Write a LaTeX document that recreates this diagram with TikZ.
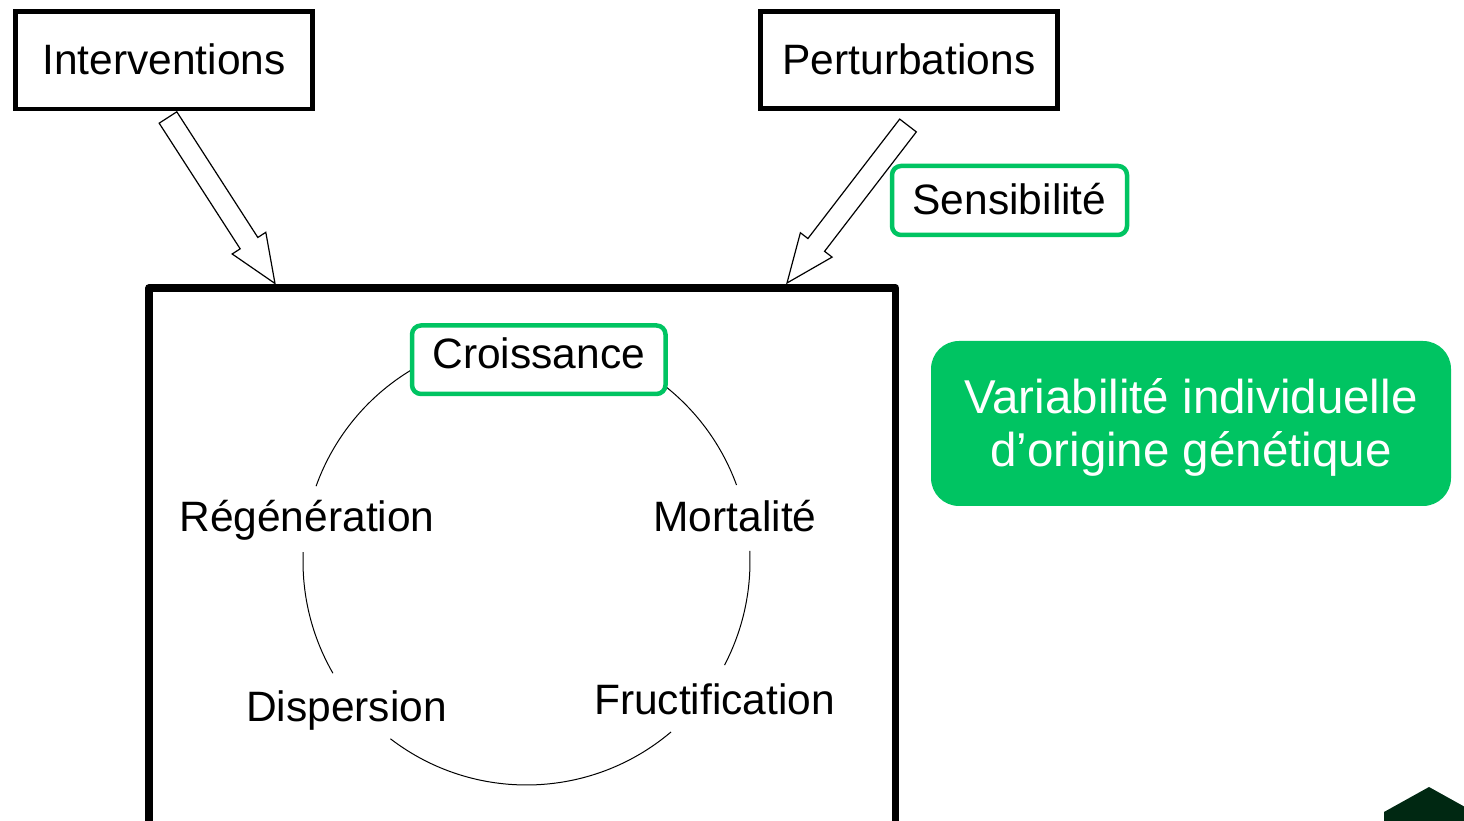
\documentclass[tikz,border=0pt]{standalone}
\usepackage{fontspec}
\setmainfont{Liberation Sans}
\usetikzlibrary{calc}
\definecolor{leafgreen}{RGB}{0,196,98}
\definecolor{forestdark}{RGB}{0,40,18}

% hollow block arrow from #1 (tail centre) to #2 (tip)
\newcommand\blockarrow[2]{%
  \draw[hollow] ($(#1)!10.5pt!90:(#2)$)
    -- ($(#2)!48pt!(#1)!10.5pt!90:(#2)$)
    -- ($(#2)!48pt!(#1)!20pt!90:(#2)$)
    -- (#2)
    -- ($(#2)!48pt!(#1)!20pt!-90:(#2)$)
    -- ($(#2)!48pt!(#1)!10.5pt!-90:(#2)$)
    -- ($(#1)!10.5pt!-90:(#2)$) -- cycle;}

\begin{document}
\begin{tikzpicture}[x=1pt,y=1pt,
  labelfont/.style={font=\fontsize{42.5pt}{50pt}\selectfont},
  blackbox/.style={draw=black, line width=4.5pt, fill=white, inner sep=0pt,
    outer sep=0pt, labelfont, text height=30.5pt},
  greenbox/.style={draw=leafgreen, line width=4.5pt, rounded corners=9pt,
    fill=white, inner sep=0pt, outer sep=0pt, labelfont, text height=30.5pt},
  stage/.style={labelfont, anchor=base, inner sep=0pt},
  hollow/.style={draw=black, fill=white, line width=1.2pt, line join=miter},
  ringarc/.style={draw=black, line width=1pt}
]
\useasboundingbox (0,0) rectangle (1464,821);
\clip (0,0) rectangle (1464,821);

% life-cycle frame
\node[draw=black, line width=7.5pt, line join=round, inner sep=0pt, outer sep=0pt,
  minimum width=746.5pt, minimum height=560pt] (frame) at (522.25,253) {};

% cycle ring, interrupted at the stage labels
\coordinate (ring) at (526.5,259.5);
\draw[ringarc] ([shift={(55:223.5pt)}]ring) arc[start angle=55, end angle=20, radius=223.5pt];
\draw[ringarc] ([shift={(118:223.5pt)}]ring) arc[start angle=118, end angle=160.3, radius=223.5pt];
\draw[ringarc] ([shift={(177.6:223.5pt)}]ring) arc[start angle=177.6, end angle=210, radius=223.5pt];
\draw[ringarc] ([shift={(232.5:223.5pt)}]ring) arc[start angle=232.5, end angle=310.3, radius=223.5pt];
\draw[ringarc] ([shift={(332.4:223.5pt)}]ring) arc[start angle=332.4, end angle=362.7, radius=223.5pt];

% external drivers
\node[blackbox, minimum width=297pt, minimum height=97.5pt, text depth=1.5pt]
  (interv) at (164,760.75) {Interventions};
\node[blackbox, minimum width=297pt, minimum height=97pt, text depth=1pt]
  (perturb) at (909,761) {Perturbations};

\coordinate (itail) at ($(interv.south)+(4,-8.5)$);
\coordinate (itip) at ($(frame.north west)+(126,4.5)$);
\coordinate (ptail) at ($(perturb.south)+(-1,-17)$);
\coordinate (ptip) at ($(frame.north west)+(638,5)$);
\blockarrow{itail}{itip}
\blockarrow{ptail}{ptip}

\node[greenbox, minimum width=235pt, minimum height=69pt, text depth=3pt]
  (sensib) at (1009.5,620.5) {Sensibilité};
\node[greenbox, minimum width=253.5pt, minimum height=68.5pt, text depth=13.5pt]
  (croiss) at (538.75,461.25) {Croissance};

% stages of the cycle
\node[stage] (regen) at (307,289) {Régénération};
\node[stage] (mort) at (735,289) {Mortalité};
\node[stage] (disp) at (346.5,99.5) {Dispersion};
\node[stage] (fruct) at (714.5,106) {Fructification};

% genetic variability panel
\node[fill=leafgreen, rounded corners=28pt, minimum width=520pt,
  minimum height=165pt, inner sep=0pt, align=center, text=white,
  font=\fontsize{47.5pt}{53pt}\selectfont]
  (variab) at (1191,397.5)
  {\rule{0pt}{50pt}Variabilité individuelle\\d’origine génétique\rule[-16pt]{0pt}{0pt}};

% corner mark
\fill[forestdark] (1384,-1) -- (1384,9) -- (1429,34) -- (1474,9) -- (1474,-1) -- cycle;
\end{tikzpicture}
\end{document}
